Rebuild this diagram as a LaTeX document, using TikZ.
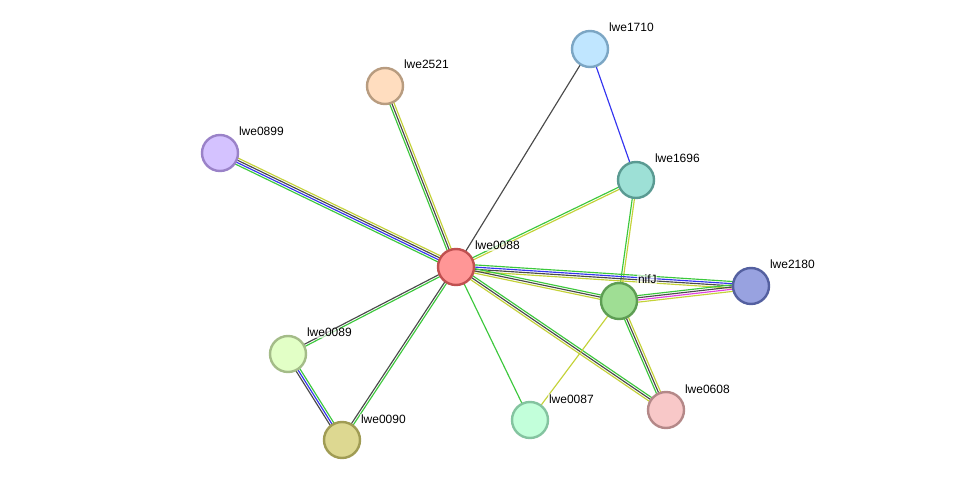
\documentclass[tikz,border=0pt]{standalone}
\usepackage{fontspec}
\setmainfont{Liberation Sans}
\usetikzlibrary{calc}
\pgfdeclarelayer{edges}
\pgfsetlayers{edges,main}

% evidence channel colours
\definecolor{evgreen}{HTML}{3CC83C}
\definecolor{evblue}{HTML}{3434F0}
\definecolor{evblack}{HTML}{4A4A4A}
\definecolor{evyellow}{HTML}{C4D238}
\definecolor{evmagenta}{HTML}{E040E0}

\tikzset{
  prot/.style={circle, minimum size=36pt, inner sep=0pt, line width=2.4pt},
  lab/.style={anchor=base west, font=\fontsize{12}{14}\selectfont, inner sep=0.8pt,
              fill=white, fill opacity=0.65, text opacity=1},
  link/.style={line width=1.15pt},
  % a straight line shifted sideways by #1 from the centre line
  par/.style={to path={($(\tikztostart.center)!#1!90:(\tikztotarget.center)$)
                       -- ($(\tikztotarget.center)!#1!-90:(\tikztostart.center)$)}},
}

% \strlink{from}{to}{colour/slot, ...}: one line per evidence channel, side by side
\newcommand\strlink[3]{%
  \foreach \c/\o in {#3}{%
    \pgfmathsetmacro\lineshift{1.1*\o}%
    \draw[link,color=ev\c,par=\lineshift pt] (#1) to (#2);}}

\begin{document}
\begin{tikzpicture}[x=1pt,y=-1pt]
  \useasboundingbox (0,0) rectangle (975,486);

  % proteins
  \node[prot, fill={rgb,255:red,255;green,150;blue,150}, draw={rgb,255:red,192;green,80;blue,80}] (n0088) at (456,267) {};
  \node[prot, fill={rgb,255:red,192;green,230;blue,255}, draw={rgb,255:red,124;green,166;blue,196}] (n1710) at (590,49) {};
  \node[prot, fill={rgb,255:red,255;green,221;blue,191}, draw={rgb,255:red,184;green,156;blue,128}] (n2521) at (385,86) {};
  \node[prot, fill={rgb,255:red,212;green,194;blue,255}, draw={rgb,255:red,154;green,130;blue,200}] (n0899) at (220,153) {};
  \node[prot, fill={rgb,255:red,157;green,224;blue,214}, draw={rgb,255:red,90;green,154;blue,146}] (n1696) at (636,180) {};
  \node[prot, fill={rgb,255:red,152;green,162;blue,224}, draw={rgb,255:red,84;green,96;blue,160}] (n2180) at (751,286) {};
  \node[prot, fill={rgb,255:red,159;green,222;blue,148}, draw={rgb,255:red,94;green,158;blue,84}] (nifJ) at (619,301) {};
  \node[prot, fill={rgb,255:red,226;green,255;blue,198}, draw={rgb,255:red,164;green,188;blue,136}] (n0089) at (288,354) {};
  \node[prot, fill={rgb,255:red,221;green,216;blue,145}, draw={rgb,255:red,160;green,156;blue,84}] (n0090) at (342,440) {};
  \node[prot, fill={rgb,255:red,194;green,255;blue,218}, draw={rgb,255:red,132;green,196;blue,160}] (n0087) at (530,420) {};
  \node[prot, fill={rgb,255:red,248;green,200;blue,200}, draw={rgb,255:red,180;green,136;blue,136}] (n0608) at (666,410) {};

  % labels
  \node[lab] (l0088) at (474,250) {lwe0088};
  \node[lab] (l1710) at (608,32) {lwe1710};
  \node[lab] (l2521) at (403,69) {lwe2521};
  \node[lab] (l0899) at (238,136) {lwe0899};
  \node[lab] (l1696) at (654,163) {lwe1696};
  \node[lab] (l2180) at (769,269) {lwe2180};
  \node[lab] (lnifJ) at (637,284) {nifJ};
  \node[lab] (l0089) at (306,337) {lwe0089};
  \node[lab] (l0090) at (360,423) {lwe0090};
  \node[lab] (l0087) at (548,403) {lwe0087};
  \node[lab] (l0608) at (684,393) {lwe0608};

  % white page, then the associations underneath the proteins
  \begin{pgfonlayer}{edges}
    \fill[white] (0,0) rectangle (975,486);
    \strlink{n0088}{n1710}{black/0}
    \strlink{n1710}{n1696}{blue/0}
    \strlink{n0088}{n2521}{green/2,black/0,yellow/-2}
    \strlink{n0088}{n0899}{yellow/-3,black/-1,blue/1,green/3}
    \strlink{n0088}{n1696}{green/1,yellow/-1}
    \strlink{n1696}{nifJ}{yellow/1,green/-1}
    \strlink{n0088}{n2180}{green/3,blue/1,black/-1,yellow/-3}
    \strlink{nifJ}{n2180}{green/3,black/1,magenta/-1,yellow/-3}
    \strlink{n0088}{nifJ}{green/2,black/0,yellow/-2}
    \strlink{n0088}{n0608}{green/2,black/0,yellow/-2}
    \strlink{nifJ}{n0608}{yellow/2,black/0,green/-2}
    \strlink{nifJ}{n0087}{yellow/0}
    \strlink{n0088}{n0087}{green/0}
    \strlink{n0088}{n0089}{green/1,black/-1}
    \strlink{n0088}{n0090}{green/1,black/-1}
    \strlink{n0089}{n0090}{green/2,blue/0,black/-2}
  \end{pgfonlayer}
\end{tikzpicture}
\end{document}
